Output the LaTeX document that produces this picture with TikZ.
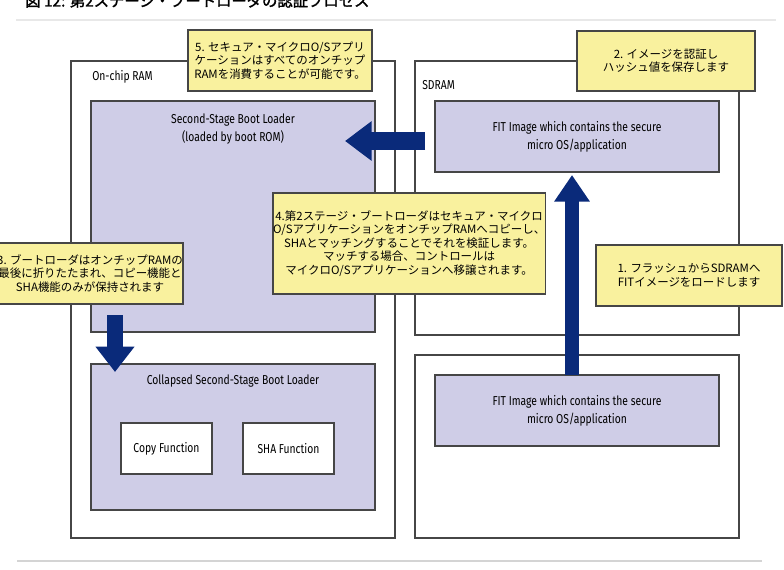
\documentclass[tikz,border=0pt]{standalone}
\usepackage{fontspec}
\setmainfont{Fira Sans}[FakeStretch=0.8]
\newfontfamily\jp{Noto Sans CJK JP}
\newfontfamily\jpb{Noto Sans CJK JP}[FakeBold=1.6]
\usetikzlibrary{arrows.meta,calc}
\definecolor{edge}{RGB}{70,70,70}
\definecolor{lav}{RGB}{207,205,231}
\definecolor{noteY}{RGB}{249,241,158}
\definecolor{navy}{RGB}{10,42,122}
\definecolor{sepA}{RGB}{232,232,232}
\definecolor{sepB}{RGB}{212,212,212}
\tikzset{
  rbox/.style 2 args={minimum width={#1*0.75pt}, minimum height={#2*0.75pt}, inner sep=0pt, outer sep=0pt, anchor=north west},
  frame/.style={draw=edge, line width=0.9pt, fill=white},
  lavbox/.style={draw=edge, line width=0.9pt, fill=lav, align=center, font=\entxt},
  whitebox/.style={draw=edge, line width=0.9pt, fill=white, align=center, font=\entxt},
  note/.style={draw=edge, line width=0.8pt, fill=noteY, align=center, font=\jptxt},
  lbl/.style={inner sep=0pt, align=center, font=\entxt},
  blk/.style={draw=navy, line cap=butt},
}
\newcommand\entxt{\fontsize{9.7}{13.5}\selectfont}
\newcommand\jptxt{\jp\fontsize{8.6}{10.2}\selectfont}
\begin{document}
\begin{tikzpicture}[x=0.75pt,y=-0.75pt]
\useasboundingbox (0,0) rectangle (784,570);
\clip (0,0) rectangle (784,570);
% title (cut at the top)
\node[anchor=base west, inner sep=0pt, font=\jpb\fontsize{11.5}{12}\selectfont] (title) at (25,6.5) {図 12: 第2ステージ・ブートローダの認証プロセス};
\draw[sepA, line width=1.8pt] (16,20) -- (776,20);
\draw[sepB, line width=2.2pt] (17,561) -- (762,561);
% memories
\node[frame, rbox={324}{477}] (onchip) at (71,61) {};
\node[frame, rbox={324}{274}] (sdram) at (415,61) {};
\node[frame, rbox={324}{183}] (flash) at (415,355) {};
\node[lbl, anchor=west] (onchiplbl) at (92,77) {On-chip RAM};
\node[lbl, anchor=west] (sdramlbl) at (422,85) {SDRAM};
% boot loader boxes
\node[lavbox, rbox={284}{231}] (ssbl) at (91,101) {};
\node[lbl] (ssbltxt) at (233,129) {Second-Stage Boot Loader\\(loaded by boot ROM)};
\node[lavbox, rbox={284}{146}] (cssbl) at (91,364) {};
\node[lbl] (cssbltxt) at (233,381) {Collapsed Second-Stage Boot Loader};
\node[whitebox, rbox={91}{51}] (copyf) at (121,423) {Copy Function};
\node[whitebox, rbox={91}{51}] (shaf) at (243,423) {SHA Function};
% FIT images
\node[lavbox, rbox={284}{71}] (fittop) at (435,101) {FIT Image which contains the secure\\micro OS/application};
\node[lavbox, rbox={284}{71}] (fitbot) at (435,375) {FIT Image which contains the secure\\micro OS/application};
% arrows
\coordinate (uptail) at ($(fitbot.north)+(-5,0)$);
\coordinate (uptip) at ($(fittop.south)+(-5,3)$);
\draw[blk, line width=11pt, -{Triangle[width=25.5pt, length=20pt]}] (uptail) -- (uptip);
\coordinate (ltail) at ($(fittop.west)+(-10,4.5)$);
\coordinate (ltip) at ($(ssbl.east |- ltail)+(-30,0)$);
\draw[blk, line width=14pt, -{Triangle[width=28.5pt, length=20pt]}] (ltail) -- (ltip);
\coordinate (dtail) at ($(ssbl.south west)+(24,-17)$);
\coordinate (dtip) at ($(cssbl.north west)+(24,8)$);
\draw[blk, line width=12pt, -{Triangle[width=28pt, length=19pt]}] (dtail) -- (dtip);
% notes
\node[note, rbox={184}{61}] (n5) at (188,30) {5. セキュア・マイクロO/Sアプリ\\ケーションはすべてのオンチップ\\RAMを消費することが可能です。};
\node[note, rbox={178}{60}] (n2) at (577,31) {2. イメージを認証し\\ハッシュ値を保存します};
\node[note, rbox={186}{61}] (n3) at (-3,243) {3. ブートローダはオンチップRAMの\\最後に折りたたまれ、コピー機能と\\SHA機能のみが保持されます};
\node[note, rbox={265}{101}] (n4) at (273,193) {4.第2ステージ・ブートローダはセキュア・マイクロ\\O/Sアプリケーションをオンチップ\mbox{}RAMへコピーし、\\SHAとマッチングすることでそれを検証します。\\マッチする場合、コントロールは\\マイクロO/Sアプリケーションへ移譲されます。};
\node[note, rbox={186}{61}] (n1) at (596,245) {1. フラッシュからSDRAMへ\\FITイメージをロードします};
\end{tikzpicture}
\end{document}
